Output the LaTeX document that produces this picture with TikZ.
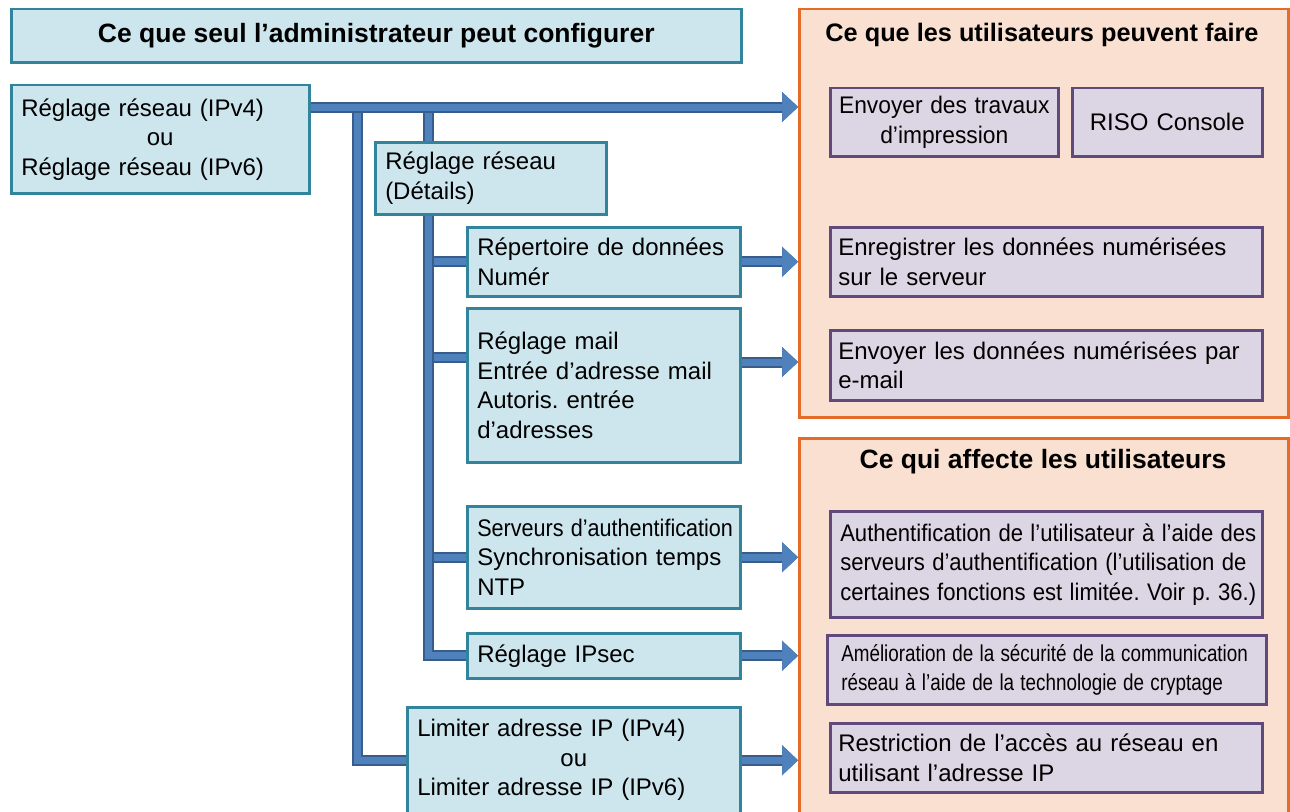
\documentclass[tikz,border=0pt]{standalone}
\usepackage{fontspec}
\usepackage{graphicx}
\setmainfont{Liberation Sans}
\usetikzlibrary{arrows.meta, positioning}
\frenchspacing

\definecolor{adminfill}{RGB}{205,230,238}
\definecolor{admindraw}{RGB}{49,132,155}
\definecolor{userfill}{RGB}{250,224,208}
\definecolor{userdraw}{RGB}{228,108,40}
\definecolor{actfill}{RGB}{220,214,228}
\definecolor{actdraw}{RGB}{96,74,123}
\definecolor{pipeblue}{RGB}{79,129,189}
\definecolor{pipedark}{RGB}{56,93,138}

\newcommand\boxtextfont{\fontsize{24bp}{29.5bp}\selectfont}
\newcommand\paneltitlefont{\fontsize{26.5bp}{31bp}\selectfont\bfseries}
\newcommand\squeeze[2]{\scalebox{#1}[1]{#2}}

\tikzset{
  basebox/.style={
    rectangle, anchor=north west,
    inner xsep=#1, inner ysep=0pt,
    line width=2.5bp, font=\boxtextfont, align=left
  },
  basebox/.default=10bp,
  adminbox/.style={basebox=#1, draw=admindraw, fill=adminfill},
  adminbox/.default=10bp,
  actbox/.style={basebox=#1, draw=actdraw, fill=actfill},
  actbox/.default=8bp,
  panel/.style={
    rectangle, anchor=north west, line width=2.5bp,
    draw=userdraw, fill=userfill
  },
  paneltitle/.style={font=\paneltitlefont, inner sep=0pt},
  pipe/.style={
    line width=11bp, draw=pipedark,
    postaction={draw=pipeblue, line width=7bp}
  },
  pipearrow/.style={pipe, -{Triangle[width=30bp, length=16bp, line width=0.5bp]}},
}

\begin{document}
\begin{tikzpicture}[x=1bp, y=-1bp]
  \useasboundingbox (0,0) rectangle (1290,812);
  \fill[white] (0,0) rectangle (1290,812);

  \node[adminbox, align=center, minimum width=730bp, minimum height=53bp,
        font=\paneltitlefont] (admintitle) at (10,8)
        {Ce que seul l’administrateur peut configurer};
  \node[adminbox, text width=278bp, minimum height=108bp] (net) at (10,84)
        {Réglage réseau (IPv4)\\\makebox[\linewidth]{ou}\\Réglage réseau (IPv6)};
  \node[adminbox, text width=211bp, minimum height=72bp] (detail) at (374,141)
        {Réglage réseau\\(Détails)};
  \node[adminbox, text width=253bp, minimum height=69bp] (scandir) at (466,226)
        {Répertoire de données\\Numér};
  \node[adminbox, text width=253bp, minimum height=154bp] (mailset) at (466,307)
        {Réglage mail\\Entrée d’adresse mail\\Autoris. entrée\\d’adresses};
  \node[adminbox, text width=253bp, minimum height=102bp] (authsrv) at (466,505)
        {\squeeze{0.9}{Serveurs d’authentification}\\Synchronisation temps\\NTP};
  \node[adminbox, text width=253bp, minimum height=45bp] (ipsec) at (466,632)
        {Réglage IPsec};
  \node[adminbox, text width=313bp, minimum height=106bp] (iplimit) at (406,706)
        {Limiter adresse IP (IPv4)\\\makebox[\linewidth]{ou}\\Limiter adresse IP (IPv6)};

  \node[panel, minimum width=489bp, minimum height=408bp] (canpanel) at (798,8) {};
  \node[panel, minimum width=489bp, minimum height=380bp] (affectpanel) at (798,437) {};
  \node[paneltitle, font=\fontsize{25.3bp}{31bp}\selectfont\bfseries] (cantitle) at (1042,35)
        {Ce que les utilisateurs peuvent faire};
  \node[paneltitle] (affecttitle) at (1043,462) {Ce qui affecte les utilisateurs};

  \node[actbox, align=center, text width=212bp, minimum height=68bp] (printjob) at (829,87)
        {\squeeze{0.95}{Envoyer des travaux}\\\squeeze{0.95}{d’impression}};
  \node[actbox, align=center, text width=174bp, minimum height=68bp] (console) at (1071,87)
        {RISO Console};
  \node[actbox, text width=416bp, minimum height=69bp] (savescan) at (829,226)
        {Enregistrer les données numérisées\\sur le serveur};
  \node[actbox, text width=416bp, minimum height=70bp] (mailscan) at (829,329)
        {Envoyer les données numérisées par\\e-mail};
  \node[actbox=10bp, text width=412bp, minimum height=106bp] (authuser) at (829,510)
        {\squeeze{0.92}{Authentification de l’utilisateur à l’aide des}\\
         \squeeze{0.92}{serveurs d’authentification (l’utilisation de}\\
         \squeeze{0.92}{certaines fonctions est limitée. Voir p. 36.)}};
  \node[actbox=14bp, text width=411bp, minimum height=69bp,
        font=\fontsize{23bp}{29bp}\selectfont] (secure) at (826,634)
        {\squeeze{0.82}{Amélioration de la sécurité de la communication}\\
         \squeeze{0.82}{réseau à l’aide de la technologie de cryptage}};
  \node[actbox, text width=416bp, minimum height=69bp] (restrict) at (829,722)
        {Restriction de l’accès au réseau en\\utilisant l’adresse IP};

  \coordinate (tap) at ([yshift=-23bp]net.north east);
  \coordinate (split1) at ([xshift=47bp]tap);
  \coordinate (split2) at ([xshift=118bp]tap);
  \coordinate (mailtap) at ([yshift=-50bp]mailset.north west);
  \coordinate (mailout) at ([yshift=-55bp]mailset.north east);

  \draw[pipe] (split2 |- scandir.west) -- (scandir.west);
  \draw[pipe] (split2 |- mailtap) -- (mailtap);
  \draw[pipe] (split2 |- authsrv.west) -- (authsrv.west);
  \draw[pipe] (split2 |- detail.south) |- (ipsec.west);
  \draw[pipe] (split2) -- (split2 |- detail.north);
  \draw[pipe] (split1) |- (iplimit.west);
  \draw[pipearrow] (tap) -- (tap -| canpanel.west);

  \draw[pipearrow] (scandir.east) -- (scandir.east -| canpanel.west);
  \draw[pipearrow] (mailout) -- (mailout -| canpanel.west);
  \draw[pipearrow] (authsrv.east) -- (authsrv.east -| affectpanel.west);
  \draw[pipearrow] (ipsec.east) -- (ipsec.east -| affectpanel.west);
  \draw[pipearrow] (iplimit.east) -- (iplimit.east -| affectpanel.west);
\end{tikzpicture}
\end{document}
